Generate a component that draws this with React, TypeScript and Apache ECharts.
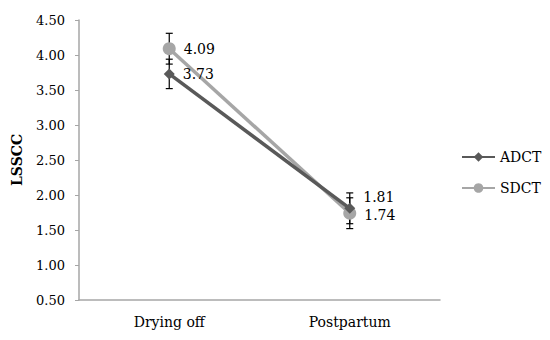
import React, { useEffect, useRef } from "react";
import * as echarts from "echarts";

const categories = ["Drying off", "Postpartum"];
const adct = [3.73, 1.81];
const sdct = [4.09, 1.74];
const adctErr = [0.21, 0.22];
const sdctErr = [0.22, 0.22];
const yTicks = { min: 0.5, max: 4.5, interval: 0.5 };

const FONT = "DejaVu Serif";

function errorSeries(name: string, values: number[], errs: number[]) {
  const data = values.map((v, i) => [i, v - errs[i], v + errs[i]]);
  return {
    type: "custom",
    name: name + "-err",
    z: 1,
    data,
    renderItem: (params: any, api: any) => {
      const x = api.value(0);
      const lo = api.coord([x, api.value(1)]);
      const hi = api.coord([x, api.value(2)]);
      const w = 3.5;
      const style = { stroke: "#000", lineWidth: 1.2 };
      return {
        type: "group",
        children: [
          { type: "line", shape: { x1: lo[0], y1: lo[1], x2: hi[0], y2: hi[1] }, style },
          { type: "line", shape: { x1: lo[0] - w, y1: lo[1], x2: lo[0] + w, y2: lo[1] }, style },
          { type: "line", shape: { x1: hi[0] - w, y1: hi[1], x2: hi[0] + w, y2: hi[1] }, style },
        ],
      };
    },
  };
}

export default function App() {
  const ref = useRef<HTMLDivElement>(null);
  useEffect(() => {
    const chart = echarts.init(ref.current!, null, { renderer: "svg" });
    chart.setOption({
      animation: false,
      grid: { left: 79, right: 110, top: 20, bottom: 40 },
      legend: {
        orient: "vertical",
        left: 461,
        top: 150,
        itemWidth: 33,
        itemHeight: 12,
        itemGap: 17,
        padding: 0,
        data: ["ADCT", "SDCT"],
        textStyle: { fontFamily: FONT, fontSize: 14, color: "#000", padding: [0, 0, 0, 0] },
      },
      xAxis: {
        type: "category",
        data: categories,
        boundaryGap: true,
        axisLine: { lineStyle: { color: "#a6a6a6", width: 1.5 } },
        axisTick: { show: false },
        axisLabel: { fontFamily: FONT, fontSize: 14, color: "#000", margin: 15 },
      },
      yAxis: {
        type: "value",
        min: yTicks.min,
        max: yTicks.max,
        interval: yTicks.interval,
        name: "LSSCC",
        nameLocation: "middle",
        nameGap: 55,
        nameRotate: 90,
        nameTextStyle: { fontFamily: FONT, fontSize: 14, fontWeight: "bold", color: "#000" },
        axisLine: { show: true, lineStyle: { color: "#a6a6a6", width: 1.5 } },
        axisTick: { show: true, length: 4, lineStyle: { color: "#a6a6a6" } },
        splitLine: { show: false },
        axisLabel: {
          fontFamily: FONT,
          fontSize: 13,
          color: "#000",
          margin: 14,
          formatter: (v: number) => v.toFixed(2),
        },
      },
      series: [
        errorSeries("ADCT", adct, adctErr),
        errorSeries("SDCT", sdct, sdctErr),
        {
          name: "ADCT",
          type: "line",
          z: 3,
          data: adct.map((v, i) => ({
            value: v,
            label: i === 1 ? { offset: [0, -11] } : {},
          })),
          symbol: "diamond",
          symbolSize: 11,
          lineStyle: { color: "#595959", width: 3.5 },
          itemStyle: { color: "#595959" },
          label: {
            show: true,
            position: "right",
            distance: 8,
            fontFamily: FONT,
            fontSize: 14,
            color: "#000",
            formatter: (p: any) => Number(p.value).toFixed(2),
          },
        },
        {
          name: "SDCT",
          type: "line",
          z: 2,
          data: sdct.map((v, i) => ({
            value: v,
            label: i === 1 ? { offset: [0, 2] } : {},
          })),
          symbol: "circle",
          symbolSize: 13,
          lineStyle: { color: "#a6a6a6", width: 3.5 },
          itemStyle: { color: "#a6a6a6" },
          label: {
            show: true,
            position: "right",
            distance: 8,
            fontFamily: FONT,
            fontSize: 14,
            color: "#000",
            formatter: (p: any) => Number(p.value).toFixed(2),
          },
        },
      ],
    });
    return () => chart.dispose();
  }, []);
  return (
    <div
      ref={ref}
      style={{ position: "fixed", left: 0, top: 0, width: 550, height: 340, background: "#fff" }}
    />
  );
}
